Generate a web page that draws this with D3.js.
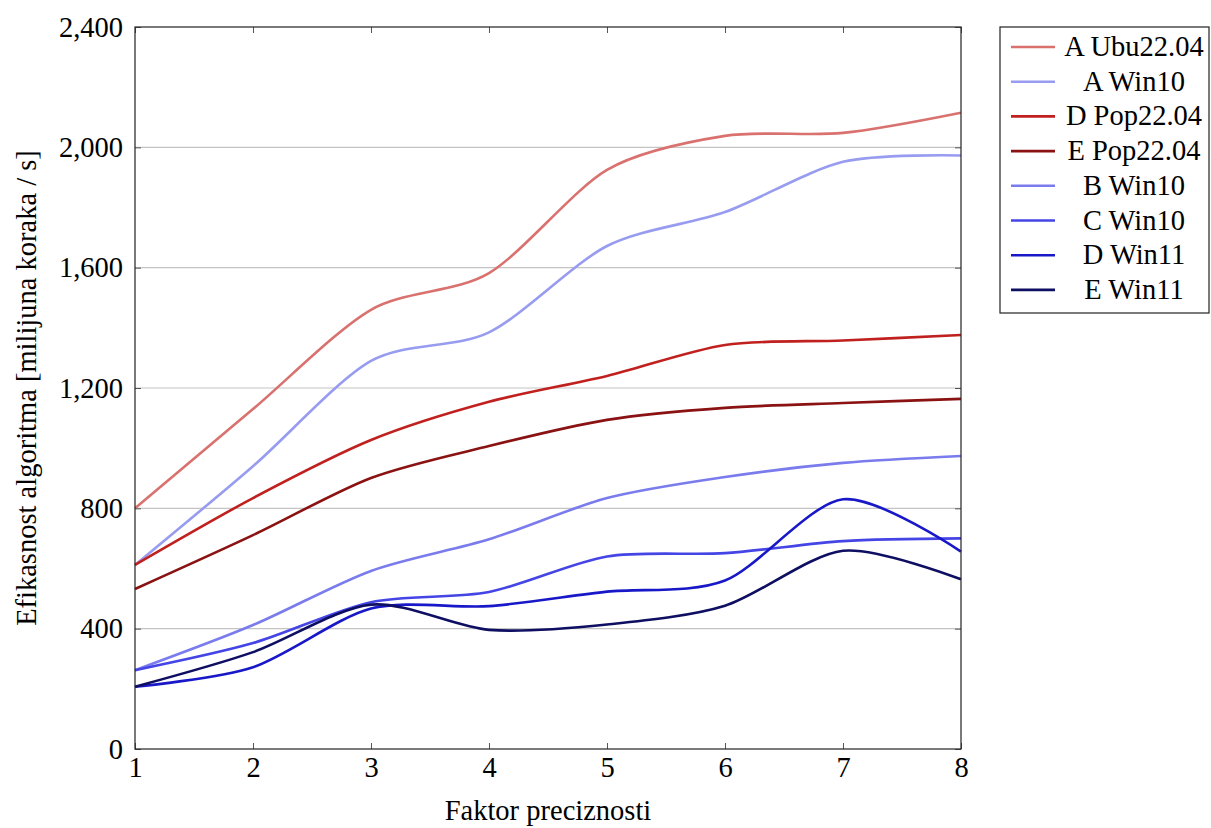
<!DOCTYPE html>
<html>
<head>
<meta charset="utf-8">
<script src="https://cdn.jsdelivr.net/npm/d3@7"></script>
<style>
  body { margin: 0; background: #fff; }
</style>
</head>
<body>
<div id="app"></div>
<script>
(function (d3) {
  'use strict'

  const factors = [1, 2, 3, 4, 5, 6, 7, 8]
  const yTicks = [0, 400, 800, 1200, 1600, 2000, 2400]

  const seriesNames = ['A Ubu22.04', 'A Win10', 'D Pop22.04', 'E Pop22.04', 'B Win10', 'C Win10', 'D Win11', 'E Win11']
  const seriesColors = ['#d9716f', '#989cf0', '#c0211f', '#8a1212', '#7a7ced', '#4545e6', '#1818c8', '#0e0e62']

  const aUbu = [800, 1130, 1460, 1582, 1925, 2038, 2048, 2115]
  const aWin10 = [612, 940, 1290, 1385, 1672, 1785, 1952, 1973]
  const dPop = [612, 834, 1027, 1154, 1240, 1343, 1358, 1376]
  const ePop = [532, 711, 901, 1007, 1094, 1134, 1150, 1164]
  const bWin10 = [262, 412, 592, 697, 834, 904, 951, 974]
  const cWin10 = [262, 352, 488, 522, 640, 651, 691, 700]
  const dWin11 = [207, 272, 467, 475, 523, 560, 830, 656]
  const eWin11 = [207, 322, 480, 396, 414, 476, 659, 564]

  const values = [aUbu, aWin10, dPop, ePop, bWin10, cWin10, dWin11, eWin11]

  const w = 1211
  const h = 828
  const m = { left: 135, right: 250, top: 27, bottom: 79 }
  const font = '"Liberation Serif", "Times New Roman", serif'
  const fontSize = '28.5px'

  const svg = d3.select('#app')
  .append('svg')
  .attr('width', w)
  .attr('height', h)

  const x = d3.scaleLinear()
  .domain([1, 8])
  .range([m.left, w - m.right])

  const y = d3.scaleLinear()
  .domain([0, 2400])
  .range([h - m.bottom, m.top])

  // grid
  svg.append('g')
  .selectAll('line')
  .data(yTicks.slice(1, -1))
  .enter()
  .append('line')
  .attr('x1', x(1)).attr('x2', x(8))
  .attr('y1', d => y(d)).attr('y2', d => y(d))
  .attr('stroke', '#c4c4c4')
  .attr('stroke-width', 1.2)

  const line = d3.line()
  .x((d, i) => x(factors[i]))
  .y(d => y(d))
  .curve(d3.curveCardinal.tension(0.15))

  svg.append('g')
  .selectAll('path')
  .data(values)
  .enter()
  .append('path')
  .attr('d', line)
  .attr('fill', 'none')
  .attr('stroke', (d, i) => seriesColors[i])
  .attr('stroke-width', 2.6)

  const styleText = sel => sel
  .style('font-family', font)
  .style('font-size', fontSize)
  .attr('fill', '#000')

  // axes, ticks pointing inward on all sides
  svg.append('g')
  .attr('transform', `translate(0,${y(0)})`)
  .call(d3.axisBottom(x).tickValues(factors).tickSize(-6).tickPadding(8).tickFormat(d3.format('d')))
  .call(g => g.select('.domain').remove())
  .call(g => g.selectAll('text').call(styleText))
  .call(g => g.selectAll('line').attr('stroke', '#555'))

  svg.append('g')
  .attr('transform', `translate(0,${y(2400)})`)
  .call(d3.axisTop(x).tickValues(factors).tickSize(-6).tickFormat(''))
  .call(g => g.select('.domain').remove())
  .call(g => g.selectAll('line').attr('stroke', '#555'))

  svg.append('g')
  .attr('transform', `translate(${x(1)},0)`)
  .call(d3.axisLeft(y).tickValues(yTicks).tickSize(-6).tickPadding(12).tickFormat(d3.format(',')))
  .call(g => g.select('.domain').remove())
  .call(g => g.selectAll('text').call(styleText))
  .call(g => g.selectAll('line').attr('stroke', '#555'))

  svg.append('g')
  .attr('transform', `translate(${x(8)},0)`)
  .call(d3.axisRight(y).tickValues(yTicks).tickSize(-6).tickFormat(''))
  .call(g => g.select('.domain').remove())
  .call(g => g.selectAll('line').attr('stroke', '#555'))

  svg.append('rect')
  .attr('x', x(1)).attr('y', y(2400))
  .attr('width', x(8) - x(1)).attr('height', y(0) - y(2400))
  .attr('fill', 'none')
  .attr('stroke', '#222')
  .attr('stroke-width', 1.2)

  svg.append('text')
  .attr('x', (x(1) + x(8)) / 2)
  .attr('y', 820)
  .attr('text-anchor', 'middle')
  .call(styleText)
  .text('Faktor preciznosti')

  svg.append('text')
  .attr('transform', `translate(36,${(y(0) + y(2400)) / 2}) rotate(-90)`)
  .attr('text-anchor', 'middle')
  .call(styleText)
  .text('Efikasnost algoritma [milijuna koraka / s]')

  // legend
  const lg = svg.append('g')
  .attr('transform', 'translate(1000,27)')

  lg.append('rect')
  .attr('x', 0).attr('y', 0)
  .attr('width', 209).attr('height', 286)
  .attr('fill', '#fff')
  .attr('stroke', '#222')
  .attr('stroke-width', 1.2)

  const item = lg.selectAll('g.item')
  .data(seriesNames)
  .enter()
  .append('g')
  .attr('class', 'item')
  .attr('transform', (d, i) => `translate(0,${20 + i * 34.7})`)

  item.append('line')
  .attr('x1', 11).attr('x2', 55)
  .attr('y1', 0).attr('y2', 0)
  .attr('stroke', (d, i) => seriesColors[i])
  .attr('stroke-width', 2.6)

  item.append('text')
  .attr('x', 134)
  .attr('y', 9)
  .attr('text-anchor', 'middle')
  .call(styleText)
  .text(d => d)

}(d3))
</script>
</body>
</html>
